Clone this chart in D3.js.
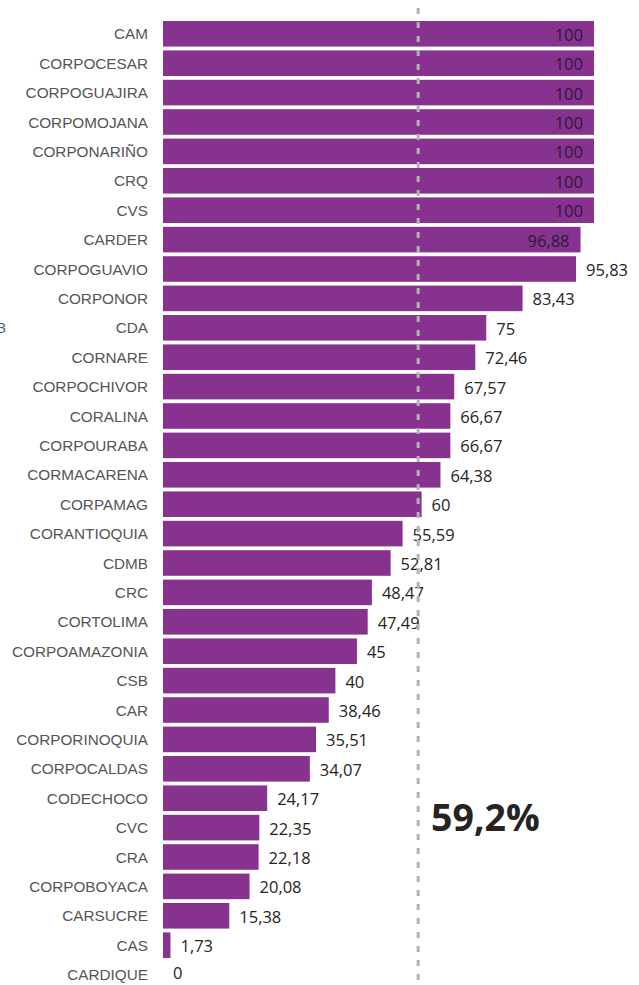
<!DOCTYPE html>
<html>
<head>
<meta charset="utf-8">
<script src="https://cdn.jsdelivr.net/npm/d3@7"></script>
<style>
  body { margin: 0; background: #fff; }
</style>
</head>
<body>
<div id="chart"></div>
<script>
// 数据
const categories = ["CAM", "CORPOCESAR", "CORPOGUAJIRA", "CORPOMOJANA", "CORPONARIÑO", "CRQ", "CVS",
  "CARDER", "CORPOGUAVIO", "CORPONOR", "CDA", "CORNARE", "CORPOCHIVOR", "CORALINA", "CORPOURABA",
  "CORMACARENA", "CORPAMAG", "CORANTIOQUIA", "CDMB", "CRC", "CORTOLIMA", "CORPOAMAZONIA", "CSB",
  "CAR", "CORPORINOQUIA", "CORPOCALDAS", "CODECHOCO", "CVC", "CRA", "CORPOBOYACA", "CARSUCRE",
  "CAS", "CARDIQUE"];
const values = [100, 100, 100, 100, 100, 100, 100, 96.88, 95.83, 83.43, 75, 72.46, 67.57, 66.67,
  66.67, 64.38, 60, 55.59, 52.81, 48.47, 47.49, 45, 40, 38.46, 35.51, 34.07, 24.17, 22.35, 22.18,
  20.08, 15.38, 1.73, 0];
const average = 59.2;
const averageLabel = "59,2%";

// 配置
const W = 639, H = 985;
const BAR_COLOR = "#88328f";
const fmt = v => String(v).replace(".", ",");

const svg = d3.select("#chart").append("svg")
  .attr("width", W)
  .attr("height", H);

const x = d3.scaleLinear().domain([0, 100]).range([163, 594]);
const y = d3.scaleBand()
  .domain(categories)
  .range([19.1, 989.3])
  .paddingInner(0.13)
  .paddingOuter(0.065);

const rows = categories.map((c, i) => ({ name: c, value: values[i] }));

// 条形
svg.selectAll(".bar")
  .data(rows)
  .join("rect")
  .attr("class", "bar")
  .attr("x", x(0))
  .attr("y", d => y(d.name))
  .attr("width", d => x(d.value) - x(0))
  .attr("height", y.bandwidth())
  .attr("fill", BAR_COLOR);

// 类别标签
svg.selectAll(".cat")
  .data(rows)
  .join("text")
  .attr("class", "cat")
  .attr("x", 148)
  .attr("y", d => y(d.name) + y.bandwidth() / 2)
  .attr("dy", "0.36em")
  .attr("text-anchor", "end")
  .style("font-family", "'Liberation Sans', Arial, sans-serif")
  .style("font-size", "15.3px")
  .style("fill", "#555")
  .text(d => d.name);

// 数值标签（最后一行不超出底边）
svg.selectAll(".val")
  .data(rows)
  .join("text")
  .attr("class", "val")
  .attr("x", d => d.value >= 96 ? x(d.value) - 11 : x(d.value) + 10)
  .attr("y", d => Math.min(y(d.name) + y.bandwidth() / 2 + 1, H - 12))
  .attr("dy", "0.36em")
  .attr("text-anchor", d => d.value >= 96 ? "end" : "start")
  .style("font-family", "'Open Sans', 'Noto Sans', sans-serif")
  .style("font-size", "16.5px")
  .style("fill", d => d.value >= 96 ? "#2a1a3a" : "#252423")
  .text(d => fmt(d.value));

// 平均线
svg.append("line")
  .attr("x1", x(average))
  .attr("x2", x(average))
  .attr("y1", 8)
  .attr("y2", H)
  .attr("stroke", "#b3b3b3")
  .attr("stroke-width", 3)
  .attr("stroke-dasharray", "6,8");

svg.append("text")
  .attr("x", 431)
  .attr("y", 831)
  .style("font-family", "'Open Sans', 'Noto Sans', sans-serif")
  .style("font-weight", "bold")
  .style("font-size", "37.5px")
  .style("fill", "#252423")
  .text(averageLabel);

// 左侧截断文字（参考图中即被截断）
svg.append("text")
  .attr("x", 6)
  .attr("y", y("CDA") + y.bandwidth() / 2)
  .attr("dy", "0.36em")
  .attr("text-anchor", "end")
  .style("font-family", "'Open Sans', sans-serif")
  .style("font-size", "15px")
  .style("fill", "#3a5a7a")
  .text("3");
</script>
</body>
</html>
